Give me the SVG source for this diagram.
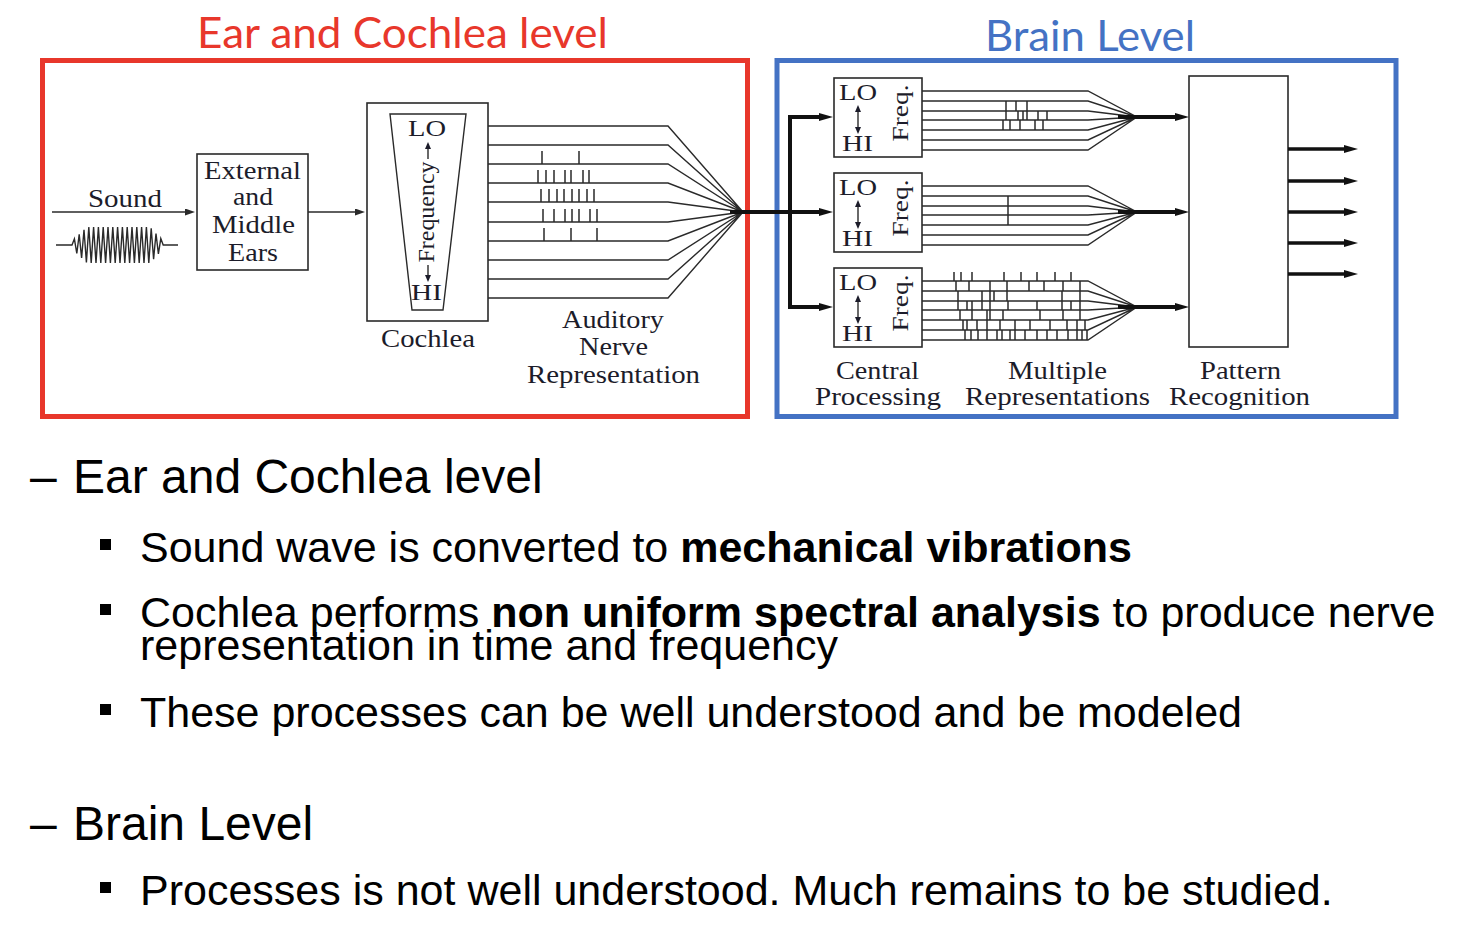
<svg xmlns="http://www.w3.org/2000/svg" width="1466" height="941" viewBox="0 0 1466 941">
<style>
.bg{fill:#fff}
.frame{fill:none;stroke-width:5}
.box{fill:#fff;stroke:#2a2a2a;stroke-width:1.6}
.thin{fill:none;stroke:#2a2a2a;stroke-width:1.4}
.tick{fill:none;stroke:#2a2a2a;stroke-width:1.5}
.thick{fill:none;stroke:#111;stroke-width:4}
.out{fill:none;stroke:#111;stroke-width:3.5}
.lbl{font-family:"Liberation Serif","Times New Roman",serif;font-size:26px;fill:#1c1c2a}
.sm{font-family:"Liberation Serif","Times New Roman",serif;font-size:24px;fill:#1c1c2a}
.title{font-family:Lato,"Liberation Sans",sans-serif;font-size:42px}
.h{font-family:"Liberation Sans",Arial,sans-serif;font-size:48px;fill:#000}
.b{font-family:"Liberation Sans",Arial,sans-serif;font-size:43px;fill:#000}
.bul{fill:#000}
</style>
<defs>
<marker id="a" viewBox="0 0 10 7" refX="1" refY="3.5" markerWidth="10" markerHeight="7" markerUnits="userSpaceOnUse" orient="auto"><path d="M0,0 L10,3.5 L0,7 z" fill="#2a2a2a"/></marker>
<marker id="ab" viewBox="0 0 14 8" refX="1" refY="4" markerWidth="14" markerHeight="8" markerUnits="userSpaceOnUse" orient="auto-start-reverse"><path d="M0,0 L14,4 L0,8 z" fill="#111"/></marker>
<marker id="as" viewBox="0 0 7 6" refX="1" refY="3" markerWidth="7" markerHeight="6" markerUnits="userSpaceOnUse" orient="auto-start-reverse"><path d="M0,0 L7,3 L0,6 z" fill="#1c1c2a"/></marker>
</defs>
<rect class="bg" x="0" y="0" width="1466" height="941"/>

<g id="ear-level">
<text class="title" x="197" y="48" textLength="411" lengthAdjust="spacingAndGlyphs" fill="#E8372B">Ear and Cochlea level</text>
<rect class="frame" x="42.5" y="60.5" width="705" height="356" stroke="#E8372B"/>
</g>
<g id="brain-level">
<text class="title" x="985" y="51" textLength="210" lengthAdjust="spacingAndGlyphs" fill="#4472C4">Brain Level</text>
<rect class="frame" x="777" y="60.5" width="619" height="356" stroke="#4472C4"/>
</g>

<g id="sound">
<text class="lbl" x="88" y="207" textLength="74" lengthAdjust="spacingAndGlyphs">Sound</text>
<polyline class="thin" stroke-width="1.2" points="56,245 72,245 74.4,238.8 76.8,253.5 79.2,234.3 81.6,258 84,229.8 86.4,262.4 88.8,227 91.2,263 93.6,227 96,263 98.4,227 100.8,263 103.2,227 105.6,263 108,227 110.4,263 112.8,227 115.2,263 117.6,227 120,263 122.4,227 124.8,263 127.2,227 129.6,263 132,227 134.4,263 136.8,227 139.2,263 141.6,227 144,263 146.4,227 148.8,263 151.2,228.3 153.6,259.1 156,233.5 158.4,253.9 160.8,238.6 163.2,245 178,245"/>
</g>

<g id="ears">
<rect class="box" x="197" y="154" width="111" height="116"/>
<text class="lbl" x="204" y="179" textLength="97" lengthAdjust="spacingAndGlyphs">External</text>
<text class="lbl" x="233" y="205" textLength="40" lengthAdjust="spacingAndGlyphs">and</text>
<text class="lbl" x="212" y="233" textLength="83" lengthAdjust="spacingAndGlyphs">Middle</text>
<text class="lbl" x="228" y="261" textLength="50" lengthAdjust="spacingAndGlyphs">Ears</text>
</g>

<g id="cochlea">
<rect class="box" x="367" y="103" width="121" height="218"/>
<polygon class="thin" points="390,114 466,114 443,310 412,310"/>
<text class="sm" x="408" y="136" textLength="38" lengthAdjust="spacingAndGlyphs">LO</text>
<text class="sm" x="411" y="300" textLength="31" lengthAdjust="spacingAndGlyphs">HI</text>
<text class="sm" font-size="22" transform="translate(434,212) rotate(-90)" text-anchor="middle" x="0" y="0" textLength="101" lengthAdjust="spacingAndGlyphs">Frequency</text>
<line class="thin" x1="428" y1="159" x2="428" y2="148" marker-end="url(#as)"/>
<line class="thin" x1="428" y1="265" x2="428" y2="276" marker-end="url(#as)"/>
<text class="lbl" x="381" y="347" textLength="94" lengthAdjust="spacingAndGlyphs">Cochlea</text>
</g>

<g id="auditory-nerve">
<path class="thin" d="M488,126 H668 L743,212 M488,145 H668 L743,212 M488,164 H668 L743,212 M488,183 H668 L743,212 M488,202 H668 L743,212 M488,222 H668 L743,212 M488,241 H668 L743,212 M488,260 H668 L743,212 M488,279 H668 L743,212 M488,298 H668 L743,212"/>
<path class="tick" d="M542,164V151 M579,164V151
M538,183V170 M546,183V170 M554,183V170 M565,183V170 M571,183V170 M583,183V170 M589,183V170
M541,202V189 M549,202V189 M557,202V189 M564,202V189 M572,202V189 M579,202V189 M587,202V189 M594,202V189
M543,222V209 M554,222V209 M565,222V209 M572,222V209 M579,222V209 M590,222V209 M597,222V209
M544,241V228 M571,241V228 M597,241V228"/>
<text class="lbl" x="562" y="328" textLength="102" lengthAdjust="spacingAndGlyphs">Auditory</text>
<text class="lbl" x="579" y="355" textLength="69" lengthAdjust="spacingAndGlyphs">Nerve</text>
<text class="lbl" x="527" y="383" textLength="173" lengthAdjust="spacingAndGlyphs">Representation</text>
</g>

<g id="central-processing-1">
<rect class="box" x="834" y="78" width="88" height="79"/>
<text class="sm" x="839" y="100" textLength="38" lengthAdjust="spacingAndGlyphs">LO</text>
<text class="sm" x="842" y="151" textLength="31" lengthAdjust="spacingAndGlyphs">HI</text>
<line class="thin" x1="858" y1="111" x2="858" y2="128" marker-start="url(#as)" marker-end="url(#as)"/>
<text class="sm" transform="translate(908,113) rotate(-90)" text-anchor="middle" x="0" y="0" textLength="57" lengthAdjust="spacingAndGlyphs">Freq.</text>
</g>
<g id="central-processing-2">
<rect class="box" x="834" y="173" width="88" height="79"/>
<text class="sm" x="839" y="195" textLength="38" lengthAdjust="spacingAndGlyphs">LO</text>
<text class="sm" x="842" y="246" textLength="31" lengthAdjust="spacingAndGlyphs">HI</text>
<line class="thin" x1="858" y1="206" x2="858" y2="223" marker-start="url(#as)" marker-end="url(#as)"/>
<text class="sm" transform="translate(908,208) rotate(-90)" text-anchor="middle" x="0" y="0" textLength="57" lengthAdjust="spacingAndGlyphs">Freq.</text>
</g>
<g id="central-processing-3">
<rect class="box" x="834" y="268" width="88" height="79"/>
<text class="sm" x="839" y="290" textLength="38" lengthAdjust="spacingAndGlyphs">LO</text>
<text class="sm" x="842" y="341" textLength="31" lengthAdjust="spacingAndGlyphs">HI</text>
<line class="thin" x1="858" y1="301" x2="858" y2="318" marker-start="url(#as)" marker-end="url(#as)"/>
<text class="sm" transform="translate(908,303) rotate(-90)" text-anchor="middle" x="0" y="0" textLength="57" lengthAdjust="spacingAndGlyphs">Freq.</text>
<text class="lbl" x="836" y="379" textLength="83" lengthAdjust="spacingAndGlyphs">Central</text>
<text class="lbl" x="815" y="405" textLength="126" lengthAdjust="spacingAndGlyphs">Processing</text>
</g>

<g id="representation-1">
<path class="thin" d="M922,91 H1088 L1137,117 M922,101 H1088 L1137,117 M922,111 H1088 L1137,117 M922,120 H1088 L1137,117 M922,130 H1088 L1137,117 M922,140 H1088 L1137,117 M922,150 H1088 L1137,117"/>
<path class="tick" d="M1006,111V101 M1016,111V101 M1027,111V101
M1006,120V111 M1018,120V111 M1023,120V111 M1027,120V111 M1038,120V111 M1047,120V111
M1003,130V120 M1010,130V120 M1020,130V120 M1035,130V120 M1043,130V120"/>
</g>
<g id="representation-2">
<path class="thin" d="M922,186 H1088 L1137,212 M922,196 H1088 L1137,212 M922,206 H1088 L1137,212 M922,215 H1088 L1137,212 M922,225 H1088 L1137,212 M922,235 H1088 L1137,212 M922,245 H1088 L1137,212"/>
<path class="tick" d="M1008,196V225"/>
</g>
<g id="representation-3">
<path class="thin" d="M922,281 H1088 L1137,307 M922,291 H1088 L1137,307 M922,301 H1088 L1137,307 M922,310 H1088 L1137,307 M922,320 H1088 L1137,307 M922,330 H1088 L1137,307 M922,340 H1088 L1137,307"/>
<path class="tick" d="M954,281V272 M961,281V272 M972,281V272 M1004,281V272 M1021,281V272 M1037,281V272 M1055,281V272 M1071,281V272
M956,291V281 M969,291V281 M990,291V281 M1007,291V281 M1029,291V281 M1044,291V281 M1063,291V281 M1080,291V281
M958,301V291 M982,301V291 M990,301V291 M994,301V291 M1007,301V291 M1062,301V291 M1080,301V291
M958,310V301 M967,310V301 M972,310V301 M982,310V301 M990,310V301 M1008,310V301 M1037,310V301 M1062,310V301 M1071,310V301 M1080,310V301
M960,320V310 M972,320V310 M987,320V310 M990,320V310 M1003,320V310 M1040,320V310 M1063,320V310 M1080,320V310
M963,330V320 M967,330V320 M977,330V320 M987,330V320 M1000,330V320 M1015,330V320 M1030,330V320 M1050,330V320 M1067,330V320 M1077,330V320 M1085,330V320
M965,340V330 M971,340V330 M978,340V330 M987,340V330 M997,340V330 M1002,340V330 M1010,340V330 M1015,340V330 M1025,340V330 M1037,340V330 M1047,340V330 M1057,340V330 M1068,340V330 M1077,340V330 M1082,340V330 M1087,340V330"/>
<text class="lbl" x="1008" y="379" textLength="99" lengthAdjust="spacingAndGlyphs">Multiple</text>
<text class="lbl" x="965" y="405" textLength="185" lengthAdjust="spacingAndGlyphs">Representations</text>
</g>

<g id="pattern-recognition">
<rect class="box" x="1189" y="76" width="99" height="271"/>
<text class="lbl" x="1200" y="379" textLength="81" lengthAdjust="spacingAndGlyphs">Pattern</text>
<text class="lbl" x="1169" y="405" textLength="141" lengthAdjust="spacingAndGlyphs">Recognition</text>
</g>

<g id="connectors">
<line class="thin" x1="52" y1="212" x2="186" y2="212" marker-end="url(#a)"/>
<line class="thin" x1="308" y1="212" x2="356" y2="212" marker-end="url(#a)"/>
<line class="thick" x1="730" y1="212" x2="820" y2="212" marker-end="url(#ab)"/>
<path class="thick" d="M820,117 H790 V307 H820" marker-start="url(#ab)" marker-end="url(#ab)"/>
<line class="thick" x1="1118" y1="117" x2="1176" y2="117" marker-end="url(#ab)"/>
<line class="thick" x1="1118" y1="212" x2="1176" y2="212" marker-end="url(#ab)"/>
<line class="thick" x1="1118" y1="307" x2="1176" y2="307" marker-end="url(#ab)"/>
<line class="out" x1="1288" y1="149" x2="1345" y2="149" marker-end="url(#ab)"/>
<line class="out" x1="1288" y1="181" x2="1345" y2="181" marker-end="url(#ab)"/>
<line class="out" x1="1288" y1="212" x2="1345" y2="212" marker-end="url(#ab)"/>
<line class="out" x1="1288" y1="243" x2="1345" y2="243" marker-end="url(#ab)"/>
<line class="out" x1="1288" y1="274" x2="1345" y2="274" marker-end="url(#ab)"/>
</g>

<g id="bullets">
<text class="h" x="30" y="493">–</text>
<text class="h" x="73" y="493">Ear and Cochlea level</text>
<rect class="bul" x="100" y="539" width="11" height="11"/>
<text class="b" x="140" y="562">Sound wave is converted to <tspan font-weight="bold">mechanical vibrations</tspan></text>
<rect class="bul" x="100" y="604" width="11" height="11"/>
<text class="b" x="140" y="627">Cochlea performs <tspan font-weight="bold">non uniform spectral analysis</tspan> to produce nerve</text>
<text class="b" x="140" y="660">representation in time and frequency</text>
<rect class="bul" x="100" y="704" width="11" height="11"/>
<text class="b" x="140" y="727">These processes can be well understood and be modeled</text>
<text class="h" x="30" y="840">–</text>
<text class="h" x="73" y="840">Brain Level</text>
<rect class="bul" x="100" y="882" width="11" height="11"/>
<text class="b" x="140" y="905">Processes is not well understood. Much remains to be studied.</text>
</g>
</svg>
